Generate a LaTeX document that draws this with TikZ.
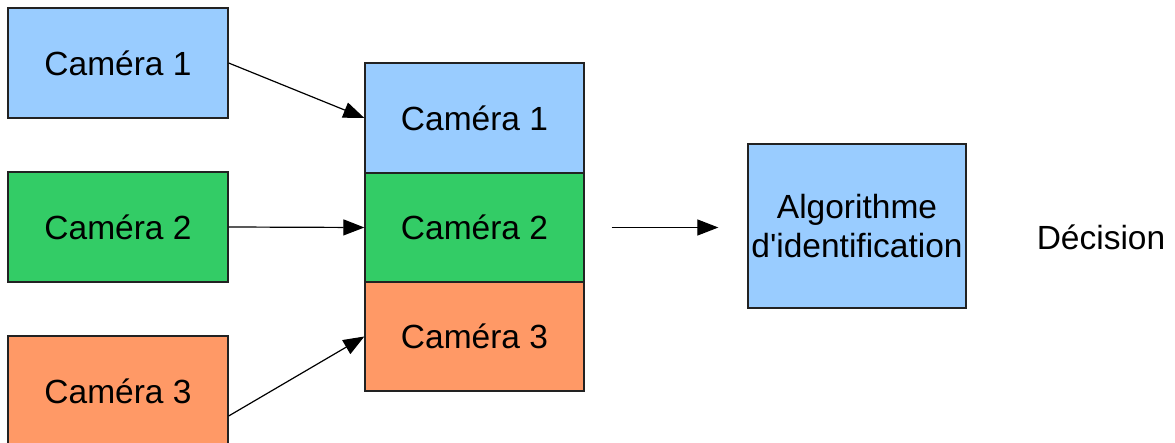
\documentclass[tikz,border=0pt]{standalone}
\usepackage{fontspec}
\newfontfamily\arialf{Liberation Sans}
\usetikzlibrary{arrows.meta}
\definecolor{cblue}{HTML}{99CCFF}
\definecolor{cgreen}{HTML}{33CC66}
\definecolor{corange}{HTML}{FF9966}
\definecolor{cline}{HTML}{222222}
\tikzset{
  box/.style={draw=cline, line width=1.3pt, inner sep=0pt, minimum width=220pt, minimum height=110pt,
    font=\arialf\fontsize{33.5}{39}\selectfont, align=center},
  conn/.style={-{Triangle[length=21pt,width=16pt]}, line width=1.2pt, black},
}
\begin{document}
\begin{tikzpicture}[x=1pt,y=-1pt]
\useasboundingbox (0,0) rectangle (1175,443);
\clip (0,0) rectangle (1175,443);
\node[box, fill=cblue] (cam1) at (118,63) {Caméra 1};
\node[box, fill=cgreen] (cam2) at (118,227) {Caméra 2};
\node[box, fill=corange] (cam3) at (118,391) {Caméra 3};
\node[box, fill=cblue, minimum width=219pt, minimum height=110pt] (s1) at (474.5,118) {Caméra 1};
\node[box, fill=cgreen, minimum width=219pt, minimum height=109pt] (s2) at (474.5,227.5) {Caméra 2};
\node[box, fill=corange, minimum width=219pt, minimum height=109pt] (s3) at (474.5,336.5) {Caméra 3};
\node[box, fill=cblue, minimum width=218pt, minimum height=164pt] (algo) at (857,226) {Algorithme\\d'identification};
\node[font=\arialf\fontsize{33.5}{39}\selectfont, inner sep=0pt] (dec) at (1101,237) {Décision};
\draw[conn] (cam1.east) -- (s1.west);
\draw[conn] (cam2.east) -- (s2.west);
\draw[conn] ([yshift=-25pt]cam3.east) -- (s3.west);
\draw[conn, shorten <=27pt, shorten >=29pt] (s2.east) -- (s2.east -| algo.west);
\end{tikzpicture}
\end{document}
